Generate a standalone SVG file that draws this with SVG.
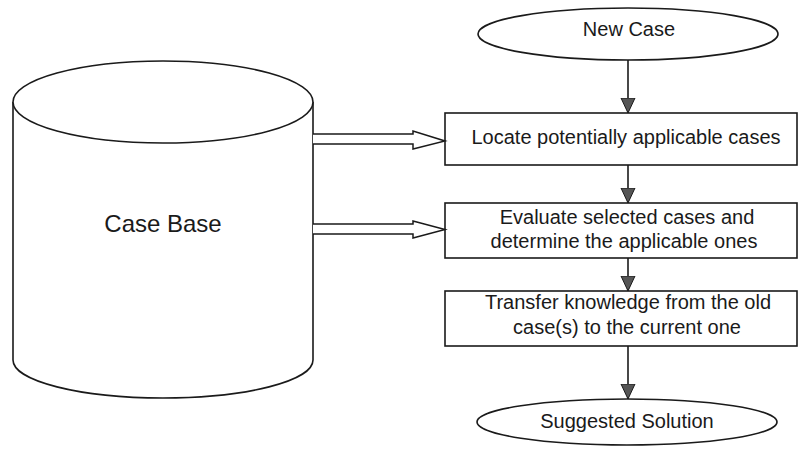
<svg xmlns="http://www.w3.org/2000/svg" width="799" height="450" viewBox="0 0 799 450">
<style>
  .shape { fill: #ffffff; stroke: #1a1a1a; stroke-width: 1.6; }
  .line { fill: none; stroke: #1a1a1a; stroke-width: 1.6; }
  .hollow { fill: #ffffff; stroke: #1a1a1a; stroke-width: 1.5; stroke-linejoin: miter; }
  text { font-family: "Liberation Sans", Arial, sans-serif; font-size: 20px; fill: #1a1a1a; text-anchor: middle; }
</style>
<defs>
  <marker id="head" markerUnits="userSpaceOnUse" markerWidth="16" markerHeight="18" refX="15" refY="7.5" orient="auto">
    <path d="M0,0.5 L15,7.5 L0,14.5 Z" fill="#555555" stroke="#1a1a1a" stroke-width="1"/>
  </marker>
</defs>
<rect width="799" height="450" fill="#ffffff"/>

<g id="case-base">
  <path class="shape" d="M13,102 V360 A150,38 0 0 0 313,360 V102"/>
  <ellipse class="shape" cx="163" cy="102" rx="150" ry="41"/>
  <text x="163" y="232" style="font-size:24px">Case Base</text>
</g>

<g id="new-case">
  <ellipse class="shape" cx="628" cy="34" rx="150" ry="26"/>
  <text x="629" y="36">New Case</text>
</g>

<g id="locate">
  <rect class="shape" x="445" y="113" width="352" height="52"/>
  <text x="626" y="144">Locate potentially applicable cases</text>
</g>

<g id="evaluate">
  <rect class="shape" x="445" y="203" width="352" height="55"/>
  <text x="627" y="224">Evaluate selected cases and</text>
  <text x="624" y="248">determine the applicable ones</text>
</g>

<g id="transfer">
  <rect class="shape" x="445" y="291" width="352" height="55"/>
  <text x="628" y="309">Transfer knowledge from the old</text>
  <text x="627" y="334">case(s) to the current one</text>
</g>

<g id="suggested">
  <ellipse class="shape" cx="627" cy="422" rx="150" ry="23"/>
  <text x="627" y="428">Suggested Solution</text>
</g>

<g id="connectors">
  <line class="line" x1="628" y1="60" x2="628" y2="113" marker-end="url(#head)"/>
  <line class="line" x1="628" y1="165" x2="628" y2="203" marker-end="url(#head)"/>
  <line class="line" x1="628" y1="258" x2="628" y2="291" marker-end="url(#head)"/>
  <line class="line" x1="628" y1="346" x2="628" y2="399" marker-end="url(#head)"/>
  <path class="hollow" d="M313,134 H413 V131 L445,141 L413,149 V144 H313"/>
  <path class="hollow" d="M313,224 H413 V221 L445,229.5 L413,238 V234 H313"/>
</g>
</svg>
